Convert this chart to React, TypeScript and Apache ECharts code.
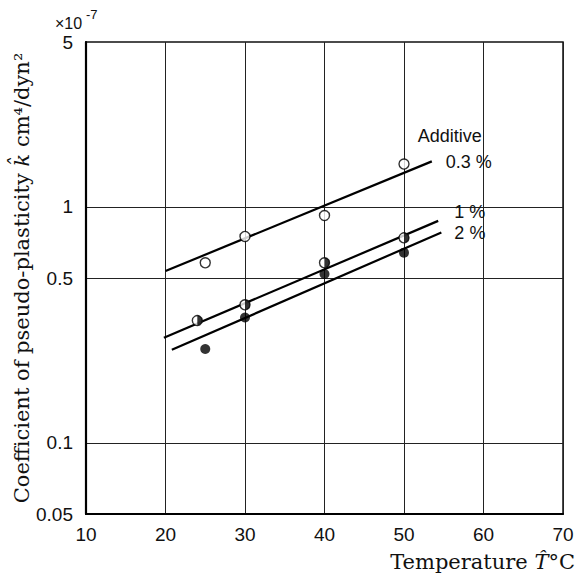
import React, { useEffect, useRef } from "react";
import * as echarts from "echarts";

// Axis ticks
const xMin = 10;
const xMax = 70;
const xStep = 10;
const yMin = 0.05;
const yMax = 5;
const yTickLabels = [0.05, 0.1, 0.5, 1, 5];
const yGridValues = [0.1, 0.5, 1];

// Measured points (temperature °C, k in 1e-7 cm^4/dyn^2)
const temp03 = [25, 30, 40, 50];
const k03 = [0.58, 0.75, 0.92, 1.52];
const temp1 = [24, 30, 40, 50];
const k1 = [0.33, 0.385, 0.58, 0.74];
const temp2 = [25, 30, 40, 50];
const k2 = [0.25, 0.34, 0.52, 0.64];

// Fitted lines (end points)
const fit03X = [20, 53.5];
const fit03Y = [0.535, 1.56];
const fit1X = [19.8, 54.3];
const fit1Y = [0.279, 0.873];
const fit2X = [20.8, 54.7];
const fit2Y = [0.248, 0.78];

const zip = (xs: number[], ys: number[]) => xs.map((x, i) => [x, ys[i]]);

const TICK_FONT = "'Liberation Sans', Arial, sans-serif";
const SERIF = "'DejaVu Serif', 'Liberation Serif', serif";

export default function App() {
  const ref = useRef<HTMLDivElement>(null);
  useEffect(() => {
    if (!ref.current) return;
    const chart = echarts.init(ref.current, null, { renderer: "svg" });
    const lineBase = {
      type: "line",
      symbol: "none",
      silent: true,
      lineStyle: { color: "#000", width: 2.2 },
      z: 3,
    };
    const labelStyle = {
      fontFamily: TICK_FONT,
      fontSize: 18,
      color: "#111",
    };
    chart.setOption({
      animation: false,
      backgroundColor: "#fff",
      grid: {
        left: 86,
        right: 14,
        top: 42,
        bottom: 67,
        show: true,
        borderColor: "#111",
        borderWidth: 1.5,
        backgroundColor: "transparent",
        containLabel: false,
        outerBoundsMode: "none",
      },
      xAxis: {
        type: "value",
        min: xMin,
        max: xMax,
        interval: xStep,
        axisLine: { show: true, lineStyle: { color: "#000", width: 2.2 } },
        axisTick: { show: false },
        axisLabel: {
          fontFamily: TICK_FONT,
          fontSize: 19,
          color: "#111",
          margin: 11,
        },
        splitLine: { show: true, lineStyle: { color: "#222", width: 1 } },
      },
      yAxis: {
        type: "log",
        logBase: 10,
        min: yMin,
        max: yMax,
        axisLine: { show: true, lineStyle: { color: "#000", width: 2.2 } },
        axisTick: { show: false, customValues: yGridValues },
        axisLabel: {
          customValues: yTickLabels,
          fontFamily: TICK_FONT,
          fontSize: 19,
          color: "#111",
          margin: 13,
          formatter: (v: number) => String(Number(v.toPrecision(3))),
        },
        splitLine: { show: true, lineStyle: { color: "#222", width: 1 } },
        name: "{n|Coefficient of pseudo-plasticity }{i|k̂}{n| cm⁴/dyn²}",
        nameLocation: "middle",
        nameGap: 54,
        nameMoveOverlap: false,
        nameRotate: 90,
        nameTextStyle: {
          rich: {
            n: { fontFamily: SERIF, fontSize: 21, color: "#111" },
            i: { fontFamily: SERIF, fontSize: 21, fontStyle: "italic", color: "#111" },
          },
        },
      },
      graphic: [
        {
          type: "text",
          left: 55,
          top: 15,
          style: { text: "×10", font: `16px ${TICK_FONT}`, fill: "#111" },
        },
        {
          type: "text",
          left: 86,
          top: 8,
          style: { text: "-7", font: `13px ${TICK_FONT}`, fill: "#111" },
        },
        {
          type: "text",
          right: 2,
          top: 551,
          style: {
            text: "{n|Temperature }{i|T̂}{n|°C}",
            rich: {
              n: { fontFamily: SERIF, fontSize: 21, fill: "#111" },
              i: { fontFamily: SERIF, fontSize: 21, fontStyle: "italic", fill: "#111" },
            },
          },
        },
      ],
      series: [
        {
          ...lineBase,
          name: "fit 0.3%",
          data: zip(fit03X, fit03Y),
          endLabel: {
            show: true,
            formatter: "{a|Additive}\n{b|0.3 %}",
            offset: [-22, -12],
            rich: {
              a: { ...labelStyle, lineHeight: 26 },
              b: { ...labelStyle, lineHeight: 26, padding: [0, 0, 0, 28] },
            },
          },
        },
        {
          ...lineBase,
          name: "fit 1%",
          data: zip(fit1X, fit1Y),
          endLabel: { show: true, formatter: "1 %", offset: [8, -9], ...labelStyle },
        },
        {
          ...lineBase,
          name: "fit 2%",
          data: zip(fit2X, fit2Y),
          endLabel: { show: true, formatter: "2 %", offset: [5, 1], ...labelStyle },
        },
        {
          type: "scatter",
          name: "0.3%",
          data: zip(temp03, k03),
          symbol: "circle",
          symbolSize: 10,
          itemStyle: { color: "#fff", borderColor: "#000", borderWidth: 1.4 },
          z: 4,
        },
        {
          type: "scatter",
          name: "1% outline",
          data: zip(temp1, k1),
          symbol: "circle",
          symbolSize: 10,
          itemStyle: { color: "#fff", borderColor: "#000", borderWidth: 1.4 },
          z: 4,
        },
        {
          type: "scatter",
          name: "1% half",
          data: zip(temp1, k1),
          symbol: "path://M0,0 A10,10 0 0,1 0,20 Z",
          symbolSize: [5, 10],
          symbolOffset: [2.5, 0],
          itemStyle: { color: "#000", borderWidth: 0 },
          z: 5,
        },
        {
          type: "scatter",
          name: "2%",
          data: zip(temp2, k2),
          symbol: "circle",
          symbolSize: 10,
          itemStyle: { color: "#000" },
          z: 4,
        },
      ],
    });
    return () => chart.dispose();
  }, []);
  return (
    <div
      ref={ref}
      style={{ position: "fixed", left: 0, top: 0, width: 577, height: 581, background: "#fff" }}
    />
  );
}
